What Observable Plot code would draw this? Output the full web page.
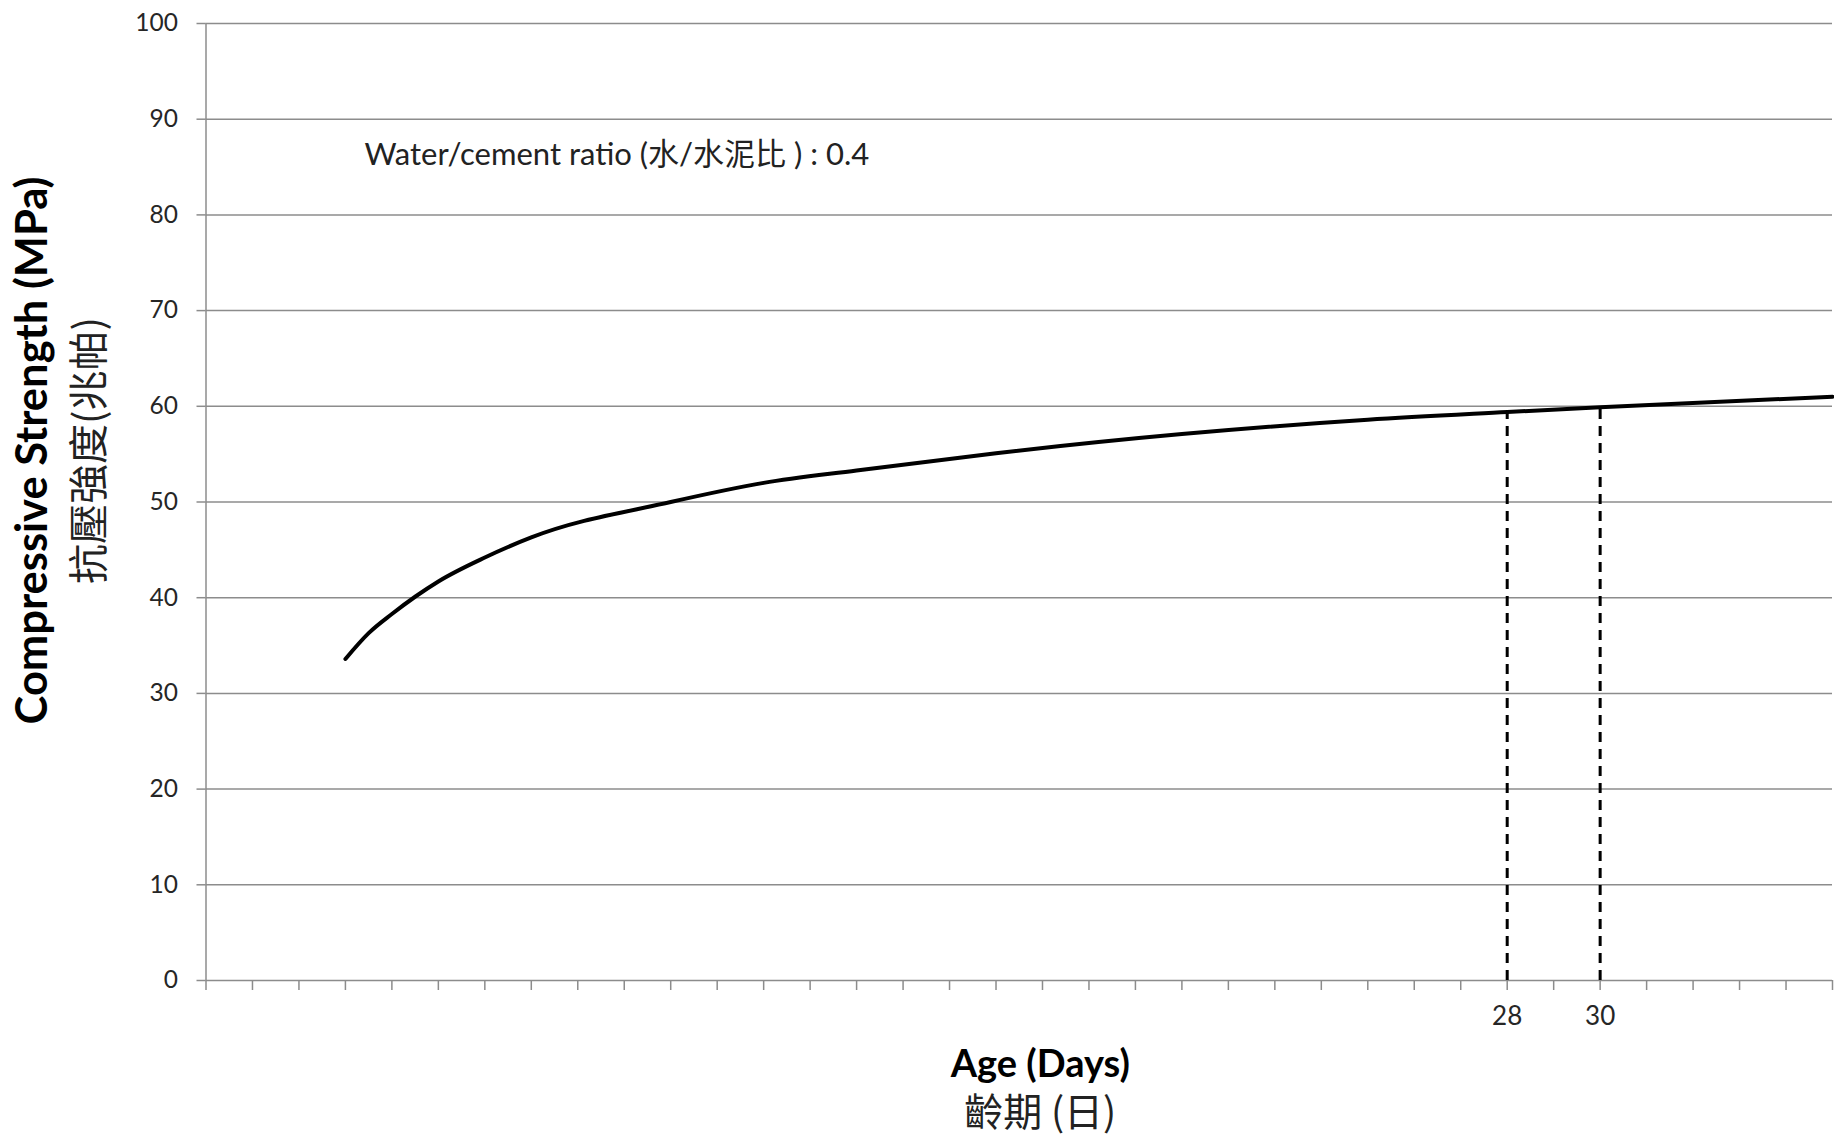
<!DOCTYPE html>
<html>
<head>
<meta charset="utf-8">
<script src="https://cdn.jsdelivr.net/npm/d3@7"></script>
<script src="https://cdn.jsdelivr.net/npm/@observablehq/plot@0.6"></script>
<style>
  html, body { margin: 0; padding: 0; background: #fff; }
  #chart svg { display: block; }
</style>
</head>
<body>
<div id="chart"></div>
<script>
// ---- data ----
const ageDays     = [3, 3.5, 4, 4.5, 5, 6, 7, 10, 12, 14, 17, 21, 25, 28, 30, 35];
const strengthMPa = [33.6, 36.3, 38.3, 40.1, 41.7, 44.2, 46.3, 50.0, 52.0, 53.3, 55.1, 57.1, 58.6, 59.4, 59.9, 61.0];
const refDays     = [28, 30];
const refStrength = [59.4, 59.9];
const yTicks      = [0, 10, 20, 30, 40, 50, 60, 70, 80, 90, 100];
const xTicks      = d3.range(0, 36, 1);
const xTickLabels = [28, 30];
const yTitle      = "Compressive Strength (MPa)";
const yTitleZh    = "抗壓強度(兆帕)";
const xTitle      = "Age (Days)";
const xTitleZh    = "齡期 (日)";
const noteText    = "Water/cement ratio (水/水泥比 ) : 0.4";

const curveData = ageDays.map((d, i) => ({day: d, mpa: strengthMPa[i]}));
const refData = refDays.map((d, i) => ({day: d, mpa: refStrength[i]}));

const grey = "#8c8c8c";
const latin = "Lato, 'Noto Sans CJK TC', sans-serif";
const cjk = "'Noto Sans CJK TC', sans-serif";

const chart = Plot.plot({
  width: 1834,
  height: 1139,
  marginLeft: 205.5,
  marginRight: 2,
  marginTop: 23,
  marginBottom: 159,
  style: {background: "#fff", fontFamily: latin},
  x: {domain: [0, 35]},
  y: {domain: [0, 100]},
  marks: [
    Plot.gridY(yTicks, {stroke: grey, strokeOpacity: 1, strokeWidth: 1.5}),
    Plot.ruleX([0], {stroke: grey, strokeWidth: 1.5}),
    Plot.axisY(yTicks, {
      tickSize: 9, tickPadding: 19, fontSize: 24.5,
      stroke: grey, strokeWidth: 1.5, fill: "#262626", label: null
    }),
    Plot.axisX(xTicks, {
      tickSize: 10, tickPadding: 16, fontSize: 26,
      stroke: grey, strokeWidth: 1.5, fill: "#262626", label: null,
      tickFormat: d => xTickLabels.includes(d) ? String(d) : ""
    }),
    Plot.ruleX(refData, {
      x: "day", y1: 0, y2: "mpa",
      stroke: "#000", strokeWidth: 3, strokeDasharray: "10,7"
    }),
    Plot.line(curveData, {
      x: "day", y: "mpa", stroke: "#000", strokeWidth: 4, curve: "monotone-x"
    }),
    Plot.text([noteText], {
      frameAnchor: "top-left", dx: 158.5, dy: 132,
      textAnchor: "start", lineAnchor: "middle",
      fontSize: 31, fill: "#222", fontFamily: latin
    }),
    Plot.text([yTitle], {
      frameAnchor: "left", dx: -172.5, dy: -51.5, rotate: -90,
      textAnchor: "middle", lineAnchor: "middle",
      fontSize: 43.5, fontWeight: "bold", fill: "#000", fontFamily: latin
    }),
    Plot.text([yTitleZh], {
      frameAnchor: "left", dx: -115.5, dy: -51.5, rotate: -90,
      textAnchor: "middle", lineAnchor: "middle",
      fontSize: 40, fill: "#222", fontFamily: cjk
    }),
    Plot.text([xTitle], {
      frameAnchor: "bottom", dx: 21, dy: 96, lineAnchor: "bottom",
      textAnchor: "middle",
      fontSize: 38, fontWeight: "bold", fill: "#000", fontFamily: latin
    }),
    Plot.text([xTitleZh], {
      frameAnchor: "bottom", dx: 21, dy: 145, lineAnchor: "bottom",
      textAnchor: "middle",
      fontSize: 39, fill: "#222", fontFamily: cjk
    })
  ]
});

document.getElementById("chart").appendChild(chart);
</script>
</body>
</html>
